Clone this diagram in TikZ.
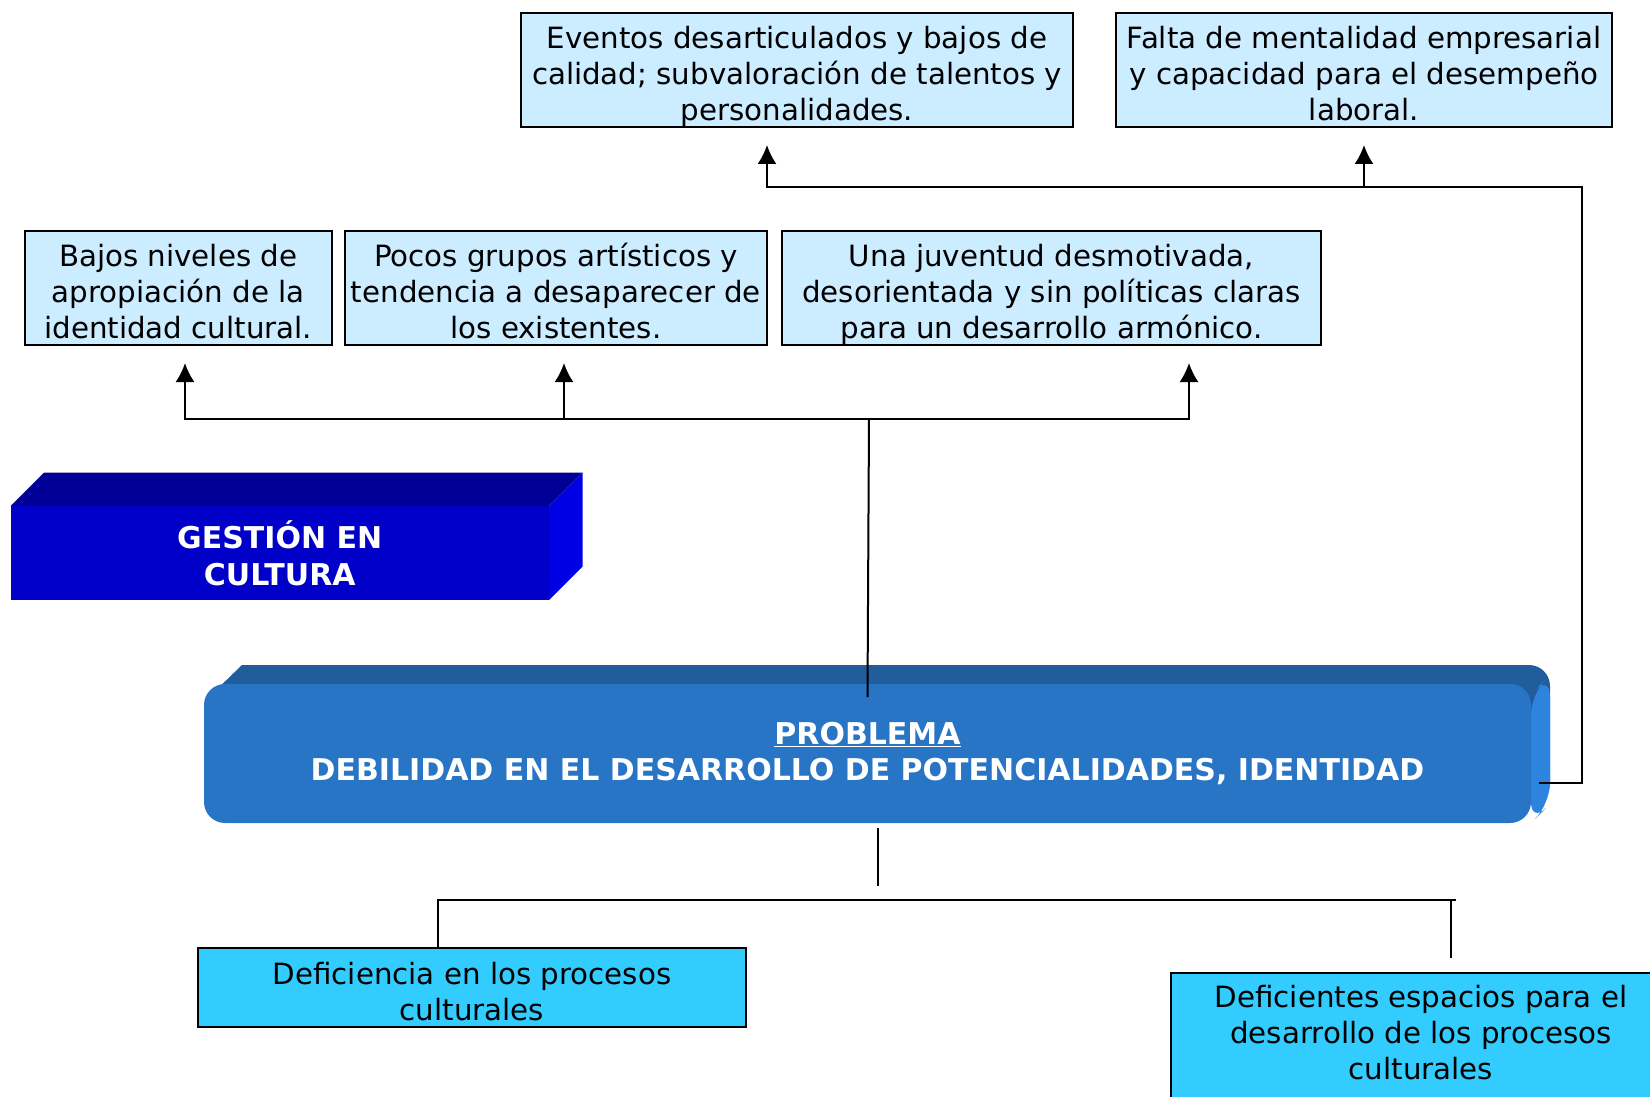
\documentclass[tikz,border=0pt]{standalone}
\usepackage{fontspec}
\setmainfont{DejaVu Sans}
\usetikzlibrary{arrows.meta,positioning,backgrounds}

\definecolor{paleblue}{RGB}{204,236,255}
\definecolor{skycyan}{RGB}{51,204,255}
\definecolor{gestfront}{RGB}{0,0,200}
\definecolor{gesttop}{RGB}{0,0,150}
\definecolor{gestside}{RGB}{0,0,228}
\definecolor{probfront}{RGB}{41,117,197}
\definecolor{probtop}{RGB}{33,93,155}
\definecolor{probside}{RGB}{45,132,222}

\newcommand\boxfont{\fontsize{29.3pt}{35.8pt}\selectfont}
\newcommand\titlefont{\fontsize{30pt}{36.8pt}\selectfont\bfseries}

\begin{document}
\begin{tikzpicture}[x=1pt,y=-1pt,line width=2pt]
    \tikzset{block/.style={
      draw,
      rectangle,
      align=center,
      inner sep=2pt,
      font=\boxfont,
      text height=101pt,
      text depth=-3pt,
      fill=paleblue,
      minimum height=114.7pt
    }};
    \tikzset{cause/.style={block, fill=skycyan}};
    \tikzset{slab/.style={
      rectangle,
      align=center,
      outer sep=0pt,
      text=white,
      font=\titlefont
    }};
    \tikzset{arr/.style={-{Latex[length=19pt,width=19pt]}}};

    \useasboundingbox (0,0) rectangle (1650,1097);
    \clip (0,0) rectangle (1650,1097);

    \node [block, minimum width=552pt] (eventos) at (797,70)
      {Eventos desarticulados y bajos de\\calidad; subvaloración de talentos y\\personalidades.};
    \node [block, minimum width=496pt, right=41pt of eventos] (falta)
      {Falta de mentalidad empresarial\\y capacidad para el desempeño\\laboral.};

    \node [block, minimum width=306.5pt] (bajos) at (178.25,288)
      {Bajos niveles de\\apropiación de la\\identidad cultural.};
    \node [block, minimum width=422pt, right=11.5pt of bajos] (pocos)
      {Pocos grupos artísticos y\\tendencia a desaparecer de\\los existentes.};
    \node [block, minimum width=539pt, right=13pt of pocos] (juventud)
      {Una juventud desmotivada,\\desorientada y sin políticas claras\\para un desarrollo armónico.};

    \node [slab, fill=gestfront, minimum width=538.5pt, minimum height=94pt] (gestion) at (279.75,553)
      {GESTIÓN EN\\CULTURA};

    \node [slab, fill=probfront, rounded corners=21pt, minimum width=1327pt, minimum height=139pt] (problema) at (867.5,753.5)
      {\underline{PROBLEMA}\\DEBILIDAD EN EL DESARROLLO DE POTENCIALIDADES, IDENTIDAD};

    \node [cause, minimum width=548pt, minimum height=79pt, text height=65pt] (deficiencia) at (472,987.5)
      {Deficiencia en los procesos\\culturales};
    \node [cause, minimum width=500pt, minimum height=0pt, anchor=north, inner ysep=5pt, text depth=50pt] (deficientes) at (1421,972)
      {Deficientes espacios para el\\desarrollo de los procesos\\culturales};

    \begin{scope}[on background layer]
      \fill[gesttop] (gestion.north west) -- ++(33.5,-33.5)
        -- ([shift={(33.5,-33.5)}]gestion.north east) -- (gestion.north east) -- cycle;
      \fill[gestside] (gestion.north east) -- ++(33.5,-33.5)
        -- ([shift={(33.5,-33.5)}]gestion.south east) -- (gestion.south east) -- cycle;
      \fill[probtop] ([shift={(6,12)}]problema.north west) -- ([shift={(38,-19)}]problema.north west)
        [rounded corners=21pt] -- ([shift={(19,-19)}]problema.north east)
        -- ([shift={(19,-19)}]problema.south east) [sharp corners] -- (problema.center) -- cycle;
      \fill[probside, rounded corners=21pt] ([yshift=-10pt]problema.north east) -- ++(19,-19)
        -- ([shift={(19,-19)}]problema.south east) -- (problema.south east) -- cycle;
    \end{scope}

    \coordinate (hub) at (869,419);
    \coordinate (t1) at (185,363);
    \coordinate (t2) at (564,363);
    \coordinate (t3) at (1189,363);
    \coordinate (corner) at (1582,187);
    \coordinate (t4) at (767,145);
    \coordinate (t5) at (1364,145);
    \coordinate (busl) at (438,900);
    \coordinate (busr) at (1456,900);
    \coordinate (dropr) at (1451,957.6);

    \draw ([yshift=-13pt]problema.north) -- (hub);
    \draw[arr] (hub) -| (t1);
    \draw[arr] (t2 |- hub) -- (t2);
    \draw[arr] (hub) -| (t3);

    \draw[arr] ([shift={(7.5,29.5)}]problema.east) -| (corner) -| (t4);
    \draw[arr] (t5 |- corner) -- (t5);

    \draw ([shift={(10,5)}]problema.south) -- ++(0,58);
    \draw (deficiencia.north -| busl) -- (busl) -- (busr);
    \draw (busr -| dropr) -- (dropr);
  \end{tikzpicture}
\end{document}
